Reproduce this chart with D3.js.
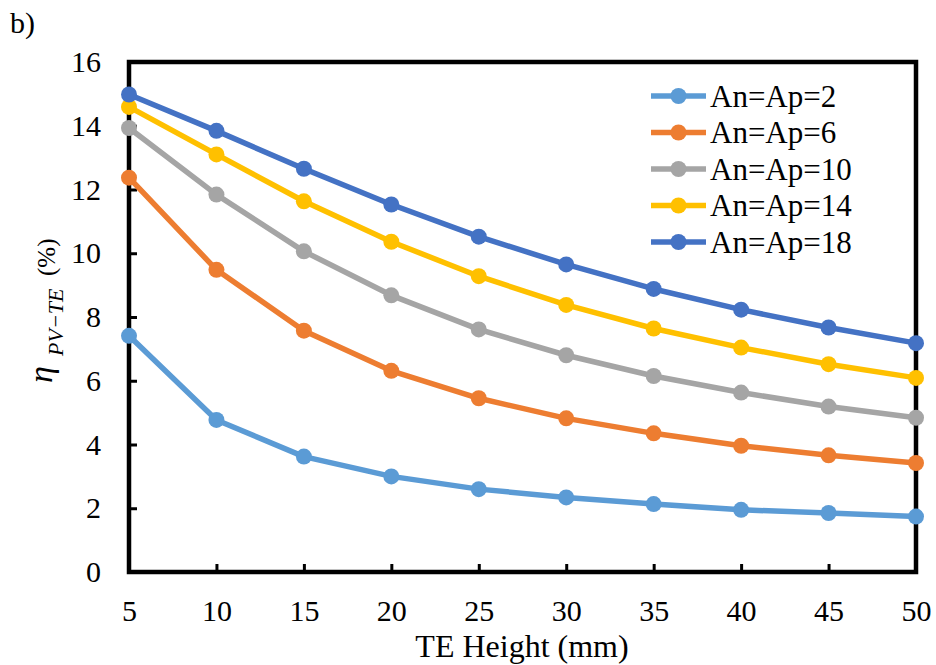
<!DOCTYPE html>
<html>
<head>
<meta charset="utf-8">
<script src="https://cdn.jsdelivr.net/npm/d3@7"></script>
<style>
  html, body { margin: 0; padding: 0; background: #fff; }
  svg text { font-family: "Liberation Serif", "Times New Roman", serif; fill: #000; }
</style>
</head>
<body>
<svg id="chart" width="936" height="665"></svg>
<script>
// TE height (mm) on the x axis
const heights = [5, 10, 15, 20, 25, 30, 35, 40, 45, 50];

// Efficiency (%) for each An=Ap setting
const seriesNames = ["An=Ap=2", "An=Ap=6", "An=Ap=10", "An=Ap=14", "An=Ap=18"];
const effAnAp2  = [7.41, 4.77, 3.62, 3.00, 2.60, 2.34, 2.13, 1.95, 1.85, 1.74];
const effAnAp6  = [12.37, 9.48, 7.57, 6.31, 5.45, 4.82, 4.35, 3.96, 3.66, 3.42];
const effAnAp10 = [13.93, 11.84, 10.06, 8.68, 7.61, 6.80, 6.15, 5.63, 5.19, 4.84];
const effAnAp14 = [14.59, 13.10, 11.63, 10.36, 9.28, 8.38, 7.64, 7.04, 6.52, 6.09];
const effAnAp18 = [14.98, 13.84, 12.65, 11.53, 10.52, 9.65, 8.88, 8.23, 7.67, 7.18];
const seriesColors = ["#5B9BD5", "#ED7D31", "#A5A5A5", "#FFC000", "#4472C4"];

const xTicks = [5, 10, 15, 20, 25, 30, 35, 40, 45, 50];
const yTicks = [0, 2, 4, 6, 8, 10, 12, 14, 16];

const series = [effAnAp2, effAnAp6, effAnAp10, effAnAp14, effAnAp18].map((vals, i) => ({
  name: seriesNames[i],
  color: seriesColors[i],
  points: heights.map((h, j) => ({ x: h, y: vals[j] }))
}));

const svg = d3.select("#chart");
const plot = { left: 129, right: 916, top: 62, bottom: 572 };

const x = d3.scaleLinear().domain([5, 50]).range([plot.left, plot.right]);
const y = d3.scaleLinear().domain([0, 16]).range([plot.bottom, plot.top]);

// panel tag
svg.append("text").attr("x", 10).attr("y", 33).attr("font-size", 30).text("b)");

// plot frame
svg.append("rect")
  .attr("x", plot.left).attr("y", plot.top)
  .attr("width", plot.right - plot.left).attr("height", plot.bottom - plot.top)
  .attr("fill", "none").attr("stroke", "#000").attr("stroke-width", 4.5);

// axes with inward ticks
const yAxis = svg.append("g")
  .attr("transform", `translate(${plot.left},0)`)
  .call(d3.axisLeft(y).tickValues(yTicks).tickFormat(d3.format("d"))
    .tickSizeInner(-8).tickSizeOuter(0).tickPadding(28));
const xAxis = svg.append("g")
  .attr("transform", `translate(0,${plot.bottom})`)
  .call(d3.axisBottom(x).tickValues(xTicks).tickFormat(d3.format("d"))
    .tickSizeInner(-8).tickSizeOuter(0).tickPadding(28));

[yAxis, xAxis].forEach(g => {
  g.select(".domain").remove();
  g.selectAll(".tick line").attr("stroke", "#000").attr("stroke-width", 3);
  g.selectAll(".tick text")
    .attr("font-family", "Liberation Serif, Times New Roman, serif")
    .attr("font-size", 30).attr("fill", "#000");
});
yAxis.selectAll(".tick").filter(d => d === 0 || d === 16).select("line").remove();
xAxis.selectAll(".tick").filter(d => d === 5 || d === 50).select("line").remove();

// axis titles
svg.append("text")
  .attr("x", 522).attr("y", 657)
  .attr("text-anchor", "middle").attr("font-size", 32)
  .text("TE Height (mm)");

// rotated y title: eta with subscript, then the unit
const yTitle = svg.append("g").attr("transform", "rotate(-90)");
yTitle.append("text").attr("x", -383).attr("y", 52)
  .attr("font-style", "italic").attr("font-size", 34).text("η");
yTitle.append("text").attr("x", -356).attr("y", 63)
  .attr("font-style", "italic").attr("font-size", 22).text("PV−TE");
yTitle.append("text").attr("x", -276).attr("y", 55)
  .attr("font-size", 25).text("(%)");

// series lines and markers
const line = d3.line().x(d => x(d.x)).y(d => y(d.y));
const gSeries = svg.append("g");
series.forEach(s => {
  const g = gSeries.append("g");
  g.append("path").datum(s.points)
    .attr("d", line).attr("fill", "none")
    .attr("stroke", s.color).attr("stroke-width", 5.5)
    .attr("stroke-linejoin", "round");
  g.selectAll("circle").data(s.points).join("circle")
    .attr("cx", d => x(d.x)).attr("cy", d => y(d.y))
    .attr("r", 8).attr("fill", s.color);
});

// legend
const legend = svg.append("g").attr("transform", "translate(651,96)");
series.forEach((s, i) => {
  const row = legend.append("g").attr("transform", `translate(0,${i * 36.5})`);
  row.append("line").attr("x1", 0).attr("x2", 55).attr("y1", 0).attr("y2", 0)
    .attr("stroke", s.color).attr("stroke-width", 5.5);
  row.append("circle").attr("cx", 27.5).attr("cy", 0).attr("r", 8).attr("fill", s.color);
  row.append("text").attr("x", 59).attr("y", 10.5).attr("font-size", 31).text(s.name);
});
</script>
</body>
</html>
